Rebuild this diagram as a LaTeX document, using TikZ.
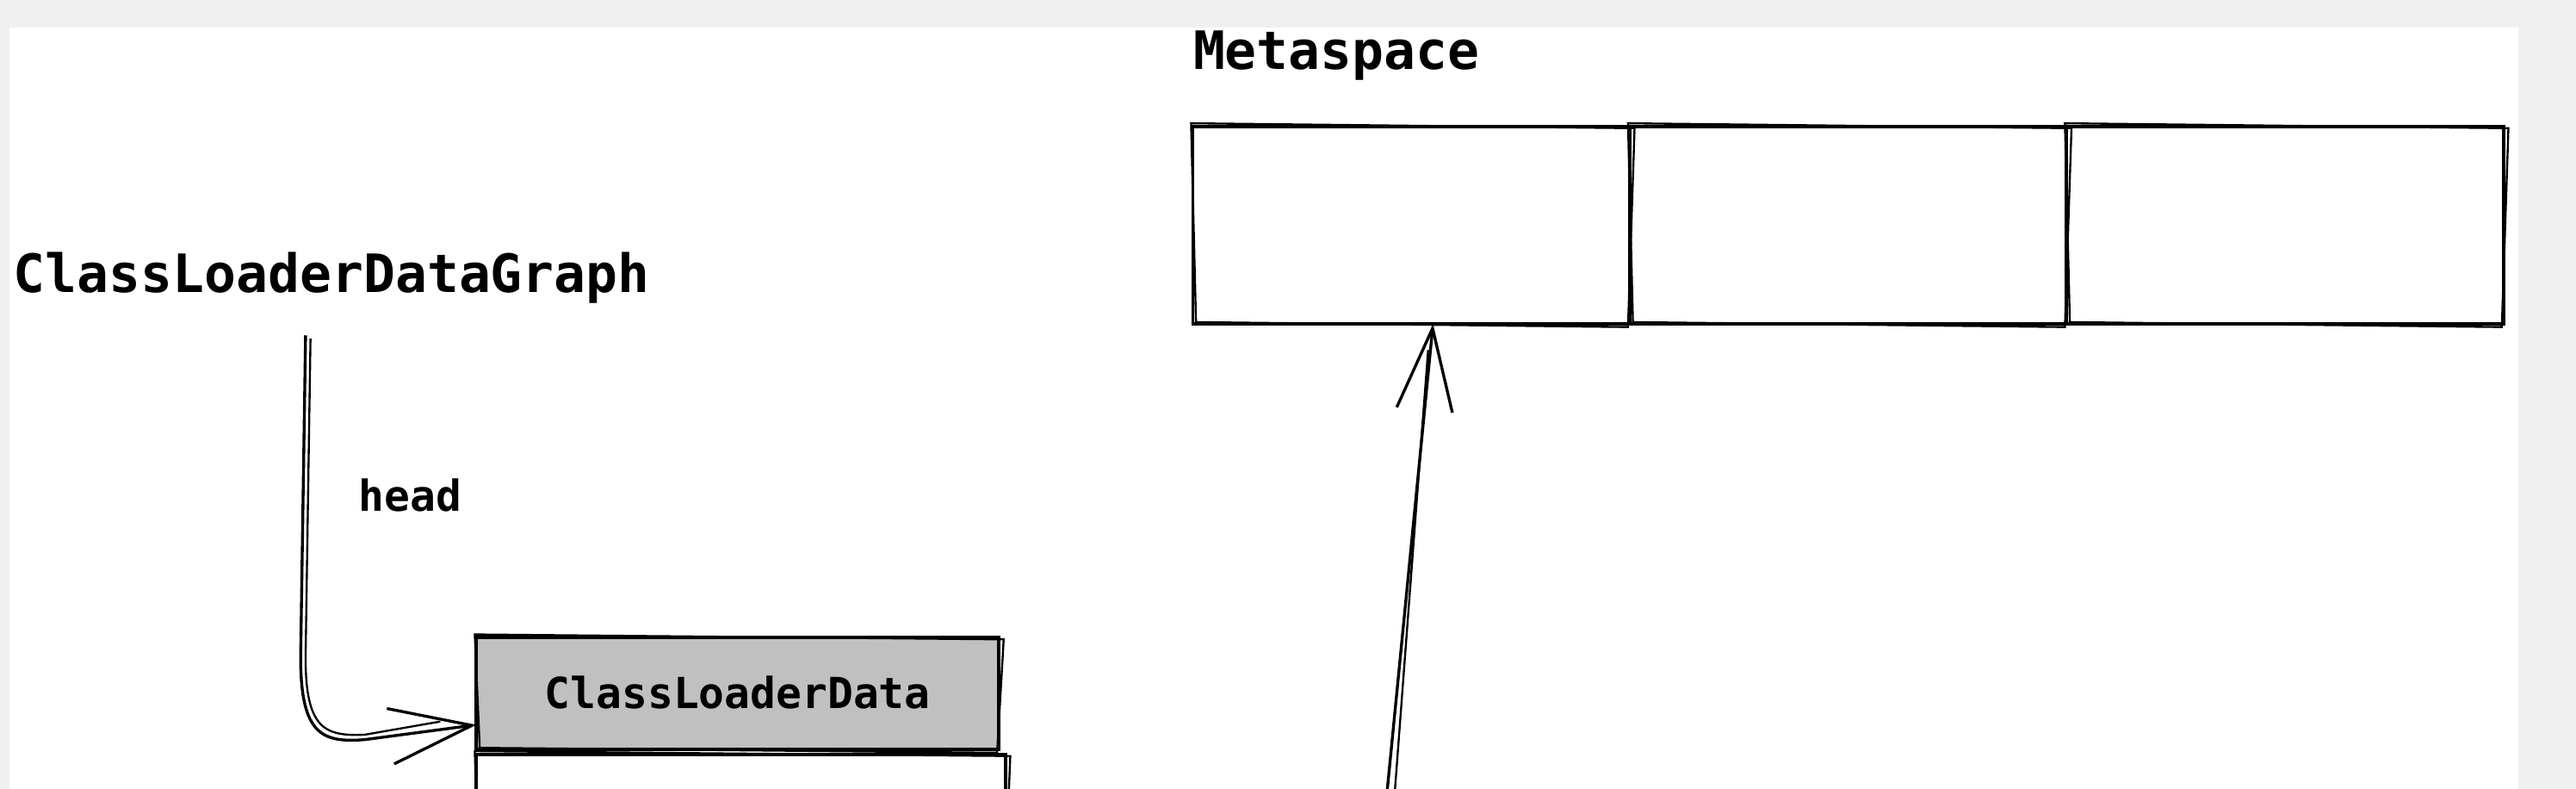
\documentclass[tikz,border=0pt]{standalone}
\usepackage{fontspec}
\setmonofont{DejaVu Sans Mono}
\usetikzlibrary{positioning,arrows.meta,calc}
\definecolor{canvasG}{HTML}{F0F0F0}
\definecolor{cellG}{HTML}{C0C0C0}

\begin{document}
\begin{tikzpicture}[x=0.02cm, y=-0.02cm,
  every node/.style={font=\ttfamily\bfseries},
  heading/.style={font=\ttfamily\bfseries\fontsize{18.3}{22}\selectfont, inner sep=0pt, anchor=base west},
  lbl/.style={font=\ttfamily\bfseries\fontsize{14.8}{18}\selectfont, inner sep=0pt, anchor=base west},
  cell/.style={rectangle, draw=black, line width=1.1pt, outer sep=0pt, inner sep=0pt,
               minimum width=5.32cm, minimum height=2.4cm},
  entry/.style={rectangle, draw=black, line width=1.2pt, outer sep=0pt, inner sep=0pt,
                minimum width=6.36cm, minimum height=1.36cm, text depth=0.25ex,
                font=\ttfamily\bfseries\fontsize{14.8}{18}\selectfont},
  rough/.style={black, line width=0.7pt},
  link/.style={-{Straight Barb[length=1cm, width=0.68cm]}, line width=1pt, black}
]
  \useasboundingbox (0,0) rectangle (1568,480);
  \clip (0,0) rectangle (1568,480);
  \fill[canvasG] (0,0) rectangle (1568,480);
  \fill[white] (6,17) rectangle (1533,480);

  % metaspace chunks
  \node[heading] (meta) at (726,42) {Metaspace};
  \node[cell, anchor=north west] (m1) at (726,77) {};
  \node[cell, right=0pt of m1] (m2) {};
  \node[cell, right=0pt of m2] (m3) {};

  % class loader data list
  \node[heading] (graph) at (8,178) {ClassLoaderDataGraph};
  \node[entry, fill=cellG, anchor=north west] (cld) at (290,388) {ClassLoaderData};
  \node[entry, fill=white, minimum width=6.44cm, minimum height=2cm, anchor=north west]
        (nxt) at ([yshift=-0.06cm]cld.south west) {};

  % sketchy second strokes
  \foreach \n in {m1,m2,m3,cld,nxt}
    \draw[rough] ([shift={(-1,-2)}]\n.north west) -- ([shift={(3,1)}]\n.north east)
      -- ([shift={(-1,2)}]\n.south east) -- ([shift={(2,-1)}]\n.south west) -- cycle;

  % head pointer
  \coordinate (headtop) at (186,204);
  \draw[link] (headtop) -- (183,400) .. controls (183,447) and (196,452) .. (222,450)
        -- ([yshift=-0.38cm]cld.west);
  \draw[rough] ([shift={(3,2)}]headtop) -- (186,400) .. controls (186,444) and (198,448) .. (222,447)
        -- ([shift={(-22,17)}]cld.west);
  \node[lbl] (headlbl) at (218,311) {head};

  % pointer into metaspace
  \coordinate (klassend) at (843,495);
  \draw[link] (klassend) -- ($(m1.south west)!0.55!(m1.south east)$);
  \draw[rough] ([xshift=0.1cm]klassend) -- ($(m1.south west)!0.55!(m1.south east)+(-3,16)$);
\end{tikzpicture}
\end{document}
